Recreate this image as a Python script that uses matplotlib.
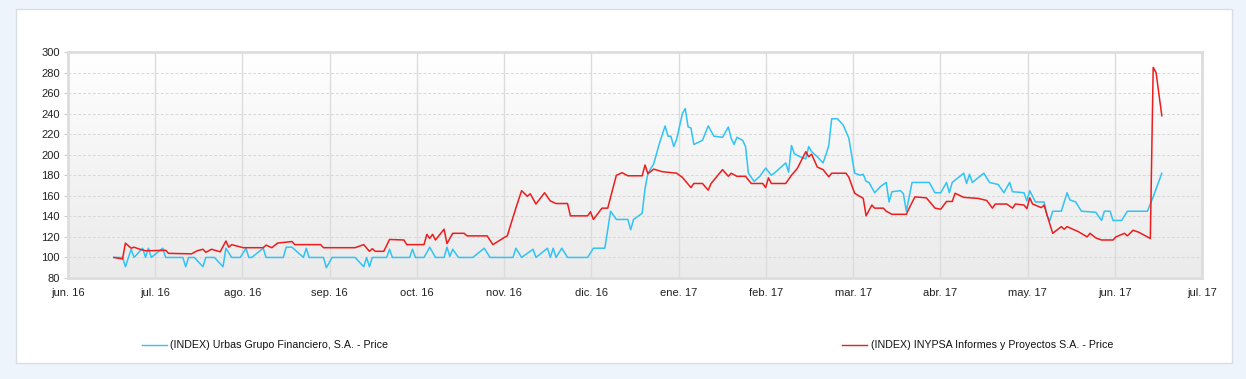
import numpy as np
import pandas as pd
import matplotlib
matplotlib.use("Agg")
import matplotlib.pyplot as plt
from matplotlib.patches import Rectangle

# --- Data : days after 2016-06-01, index value ---
START = pd.Timestamp("2016-06-01")
END = pd.Timestamp("2017-07-01")

urbas_days = [16, 19, 20, 22, 23, 26, 27, 28, 29, 33, 34, 40, 41, 42, 44, 47, 48, 51, 54, 55,
              57, 60, 62, 63, 64, 68, 69, 75, 76, 78, 82, 83, 84, 89, 90, 92, 100, 103, 104, 105,
              106, 111, 112, 113, 119, 120, 121, 124, 126, 128, 131, 132, 133, 134, 136, 141, 145, 147, 155, 156,
              158, 162, 163, 167, 168, 169, 170, 172, 174, 181, 183, 187, 189, 191, 195, 196, 197, 200, 201, 202,
              204, 206, 208, 209, 210, 211, 212, 214, 215, 216, 217, 218, 221, 223, 225, 228, 230, 231, 232, 233,
              235, 236, 237, 239, 241, 243, 245, 246, 248, 250, 251, 252, 253, 255, 257, 258, 259, 261, 263, 264,
              265, 266, 268, 270, 272, 274, 276, 277, 278, 279, 281, 283, 285, 286, 287, 290, 291, 292, 294, 300,
              302, 304, 306, 307, 308, 312, 313, 314, 315, 319, 321, 324, 326, 328, 329, 333, 334, 335, 337, 340,
              341, 342, 343, 346, 348, 349, 351, 353, 358, 360, 361, 363, 364, 367, 369, 376, 378, 381]
urbas_vals = [100, 100, 91, 108, 100, 109, 100, 109, 100, 109, 100, 100, 91, 100, 100, 91, 100, 100, 91, 109,
              100, 100, 109, 100, 100, 109, 100, 100, 110, 110, 100, 109, 100, 100, 90, 100, 100, 91, 100, 91,
              100, 100, 108, 100, 100, 108, 100, 100, 110, 100, 100, 110, 101, 108, 100, 100, 109, 100, 100, 109,
              100, 108, 100, 109, 100, 109, 100, 109, 100, 100, 109, 109, 145, 137, 137, 127, 137, 143, 167, 182,
              191, 211, 228, 218, 218, 208, 215, 240, 245, 227, 226, 210, 214, 228, 218, 217, 227, 216, 210, 217,
              214, 208, 182, 174, 179, 187, 180, 182, 187, 192, 183, 209, 201, 198, 196, 208, 203, 198, 192, 200,
              209, 235, 235, 229, 216, 182, 180, 181, 174, 173, 163, 169, 173, 154, 164, 165, 162, 145, 173, 173,
              163, 163, 173, 163, 173, 182, 172, 181, 173, 182, 173, 171, 163, 173, 164, 163, 155, 165, 154, 154,
              141, 136, 145, 145, 163, 156, 154, 145, 144, 136, 145, 145, 136, 136, 145, 145, 159, 182]

inypsa_days = [16, 19, 20, 22, 23, 25, 27, 34, 35, 43, 45, 47, 48, 50, 53, 55, 56, 57, 61, 68,
               69, 71, 73, 78, 79, 88, 89, 100, 103, 105, 106, 107, 110, 112, 117, 118, 124, 125, 126, 127,
               128, 131, 132, 134, 138, 139, 146, 148, 152, 153, 156, 158, 160, 161, 163, 166, 168, 170, 174, 175,
               181, 182, 183, 186, 188, 191, 193, 195, 200, 201, 202, 204, 207, 212, 214, 217, 218, 221, 223, 224,
               228, 230, 231, 233, 236, 238, 242, 243, 244, 245, 250, 252, 254, 257, 258, 259, 261, 263, 265, 266,
               271, 272, 274, 277, 278, 280, 281, 284, 285, 287, 292, 293, 295, 299, 302, 304, 306, 308, 309, 312,
               317, 320, 322, 323, 327, 329, 330, 333, 334, 335, 336, 339, 340, 341, 343, 346, 347, 348, 350, 352,
               355, 356, 358, 360, 364, 365, 368, 369, 371, 373, 375, 377, 378, 379, 381]
inypsa_vals = [100, 98.5, 114, 109, 110, 108, 106.5, 107, 104, 103.5, 106.5, 108, 105, 108, 105.5, 116, 110, 112.5, 109.5, 109.5,
               112, 109.5, 114, 115.5, 112.5, 112.5, 109.5, 109.5, 112.5, 106, 108.5, 106, 106, 117.5, 117, 112.5, 112.5, 122.5, 118.5, 122.5,
               117, 127.5, 113.5, 123.5, 123.5, 121, 121, 112.5, 119.5, 121, 148, 165, 159.5, 162, 152, 163, 155, 152.5, 152.5, 140.5,
               140.5, 144.5, 137, 148, 148, 180, 182.5, 179.5, 179.5, 190, 181.5, 186, 183.5, 182, 178, 168, 172, 172, 165.5, 172,
               185.5, 179, 182, 179, 179, 172, 172, 168, 177.5, 172, 172, 180, 186.5, 203, 198, 200.5, 188, 185.5, 178.5, 182,
               182, 178, 162.5, 157.5, 140.5, 151, 148, 148, 145, 142, 142, 148, 159, 158, 148, 147, 154.5, 154.5, 162.5, 158.5,
               157.5, 155.5, 148, 152, 152, 148, 152, 151, 147.5, 158, 152, 148.5, 151, 141.5, 123.5, 130, 127.5, 130, 127.5, 125,
               120, 123.5, 119, 117, 117, 120, 123.5, 121, 126.5, 124.5, 121.5, 118.5, 285, 280, 238]

urbas_label = "(INDEX) Urbas Grupo Financiero, S.A. - Price"
inypsa_label = "(INDEX) INYPSA Informes y Proyectos S.A. - Price"

month_labels = ["jun. 16", "jul. 16", "ago. 16", "sep. 16", "oct. 16", "nov. 16", "dic. 16",
                "ene. 17", "feb. 17", "mar. 17", "abr. 17", "may. 17", "jun. 17", "jul. 17"]
y_ticks = list(range(80, 301, 20))

BLUE = "#30c3f5"
RED = "#ee1c1c"

urbas_dates = START + pd.to_timedelta(urbas_days, unit="D")
inypsa_dates = START + pd.to_timedelta(inypsa_days, unit="D")
# the source chart spaces its month ticks evenly across the range
tick_pos = pd.date_range(START, END, periods=len(month_labels))

plt.rcParams["font.family"] = ["Liberation Sans", "DejaVu Sans"]

W, H = 1246, 379
fig = plt.figure(figsize=(W / 100, H / 100), dpi=100)
fig.patch.set_facecolor("#eef4fb")

# white panel behind everything
fig.patches.append(Rectangle((16 / W, 1 - 363 / H), (1232 - 16) / W, (363 - 9) / H,
                             transform=fig.transFigure, facecolor="white",
                             edgecolor="#d9dee4", linewidth=1.0, zorder=-10))

ax = fig.add_axes([68 / W, 1 - 278 / H, (1202 - 68) / W, (278 - 52) / H])
ax.set_zorder(1)
ax.set_xlim(START, END)
ax.set_ylim(80, 300)

# vertical gradient background
grad = np.linspace(1.0, 0.0, 256).reshape(-1, 1)
cmap = matplotlib.colors.LinearSegmentedColormap.from_list("bg", ["#ebebeb", "#f4f4f4", "#ffffff"])
ax.imshow(grad, aspect="auto", cmap=cmap, extent=[0, 1, 0, 1], transform=ax.transAxes,
          zorder=0, origin="upper", vmin=0, vmax=1)

for d in tick_pos:
    ax.axvline(d, color="#dcdcdc", lw=1.0, zorder=1)
for v in y_ticks[1:-1]:
    ax.axhline(v, color="#d8d8d8", lw=0.7, ls=(0, (3, 2)), zorder=1)

ax.plot(urbas_dates, urbas_vals, color=BLUE, lw=1.1, zorder=3, solid_joinstyle="round")
ax.plot(inypsa_dates, inypsa_vals, color=RED, lw=1.1, zorder=4, solid_joinstyle="round")

ax.set_xticks(tick_pos)
ax.set_xticklabels(month_labels)
ax.set_yticks(y_ticks)
ax.tick_params(axis="x", length=0, pad=7, labelsize=8, colors="#222222")
ax.tick_params(axis="y", length=3, width=0.8, color="#cccccc", pad=3, labelsize=8, labelcolor="#222222")
for s in ax.spines.values():
    s.set_color("#dddddd")
    s.set_linewidth(2.0)

# legend drawn as figure lines + text
ly = 1 - 345 / H
fig.add_artist(plt.Line2D([142 / W, 167 / W], [ly, ly], color=BLUE, lw=1.0, transform=fig.transFigure))
fig.text(170 / W, ly, urbas_label, fontsize=7.7, va="center", ha="left", color="#111111")
fig.add_artist(plt.Line2D([842 / W, 867 / W], [ly, ly], color=RED, lw=1.0, transform=fig.transFigure))
fig.text(871 / W, ly, inypsa_label, fontsize=7.7, va="center", ha="left", color="#111111")

fig.savefig("out.png", dpi=100, facecolor=fig.get_facecolor())
